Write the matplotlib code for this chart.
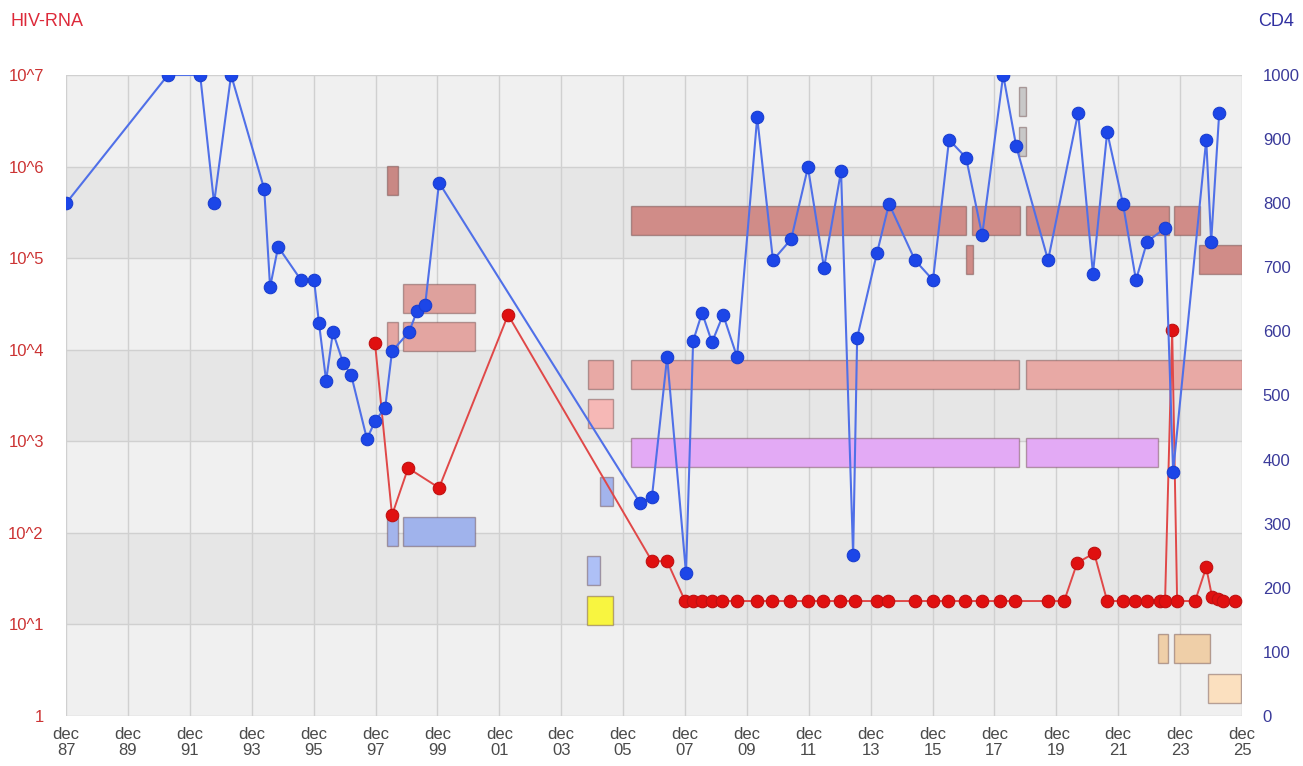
import numpy as np
import matplotlib
matplotlib.use('Agg')
import matplotlib.pyplot as plt
from matplotlib.patches import Rectangle

plt.rcParams['font.family'] = ['Liberation Sans', 'DejaVu Sans']

# CD4 counts (right axis), decimal years
cd4_year = [1987.92, 1991.21, 1992.25, 1992.70, 1993.25, 1994.32, 1994.51, 1994.77,
            1995.51, 1995.93, 1996.09, 1996.32, 1996.54, 1996.87, 1997.13, 1997.64,
            1997.90, 1998.23, 1998.45, 1999.00, 1999.26, 1999.52, 1999.97, 2006.47,
            2006.85, 2007.34, 2007.95, 2008.18, 2008.47, 2008.79, 2009.15, 2009.60,
            2010.25, 2010.76, 2011.35, 2011.89, 2012.41, 2012.96, 2013.35, 2013.48,
            2014.12, 2014.51, 2015.35, 2015.93, 2016.45, 2017.00, 2017.52, 2018.20,
            2018.62, 2019.65, 2020.62, 2021.10, 2021.56, 2022.07, 2022.49, 2022.85,
            2023.43, 2023.69, 2024.76, 2024.92, 2025.18]
cd4_value = [800, 1000, 1000, 800, 1000, 822, 669, 732,
             680, 680, 613, 523, 599, 551, 532, 432,
             460, 481, 569, 599, 632, 641, 832, 332,
             342, 560, 223, 585, 629, 583, 626, 560,
             934, 711, 744, 856, 699, 850, 251, 590,
             722, 799, 711, 680, 899, 871, 750, 1000,
             889, 711, 941, 690, 911, 799, 680, 740,
             761, 381, 899, 740, 941]

# HIV-RNA viral load (left axis, log)
rna_year = [1997.90, 1998.45, 1998.97, 1999.97, 2002.20, 2006.85, 2007.34,
            2007.92, 2008.18, 2008.47, 2008.79, 2009.12, 2009.60, 2010.25, 2010.73,
            2011.31, 2011.89, 2012.38, 2012.93, 2013.41, 2014.12, 2014.48, 2015.35,
            2015.93, 2016.42, 2016.97, 2017.52, 2018.10, 2018.58, 2019.65, 2020.17,
            2020.59, 2021.14, 2021.56, 2022.07, 2022.46, 2022.85, 2023.27, 2023.43,
            2023.66, 2023.82, 2024.40, 2024.76, 2024.95, 2025.14, 2025.31, 2025.69]
rna_value = [11800, 156, 510, 310, 24000, 49, 49,
             18, 18, 18, 18, 18, 18, 18, 18,
             18, 18, 18, 18, 18, 18, 18, 18,
             18, 18, 18, 18, 18, 18, 18, 18,
             47, 60, 18, 18, 18, 18, 18, 18,
             16400, 18, 18, 42, 20, 19, 18, 18]

# therapy bars: start, end, lane top (log10 of left axis), colour
bar_start = [1998.29, 1998.29, 1998.81, 1998.81, 1998.29, 1998.81, 2004.78, 2004.78,
             2005.17, 2004.75, 2004.75, 2006.17, 2017.19, 2018.94, 2023.72, 2024.53,
             2017.00, 2018.71, 2018.71, 2006.17, 2018.94, 2006.17, 2018.94, 2023.20,
             2023.72, 2024.82]
bar_end = [1998.64, 1998.64, 2001.13, 2001.13, 1998.64, 2001.13, 2005.59, 2005.59,
           2005.59, 2005.17, 2005.59, 2017.00, 2018.74, 2023.56, 2024.56, 2025.92,
           2017.23, 2018.94, 2018.94, 2018.71, 2025.92, 2018.71, 2023.20, 2023.53,
           2024.88, 2025.88]
bar_top = [6.004, 4.301, 4.716, 4.301, 2.173, 2.173, 3.886, 3.461,
           2.609, 1.747, 1.310, 5.568, 5.568, 5.568, 5.568, 5.142,
           5.142, 6.867, 6.430, 3.886, 3.886, 3.035, 3.035, 0.895,
           0.895, 0.459]
bar_color = ['#c98884', '#e4a6a2', '#dea19d', '#e3a5a1', '#a3b4ec', '#a0b3ec', '#e8a9a5', '#f6b8b6',
             '#a3b4ec', '#aec0f6', '#f8f540', '#d08c88', '#d08c88', '#d08c88', '#d08c88', '#d08c88',
             '#d08c88', '#c8c8c8', '#c8c8c8', '#e8a9a5', '#e8a9a5', '#e3aaf5', '#e3aaf5', '#efcfa8',
             '#efcfa8', '#fbe0bf']
bar_height = 0.317

tick_years = [1987.917 + 2 * k for k in range(20)]
tick_labels = ['dec\n%02d' % ((87 + 2 * k) % 100) for k in range(20)]

fig = plt.figure(figsize=(13.03, 7.66), dpi=100)
ax = fig.add_axes([0.0507, 0.0653, 0.9025, 0.8368])
ax.set_yscale('log')
ax.set_xlim(1987.917, 2025.917)
ax.set_ylim(1, 1e7)

# alternating bands
for k in range(7):
    ax.axhspan(10 ** k, 10 ** (k + 1), color='#f0f0f0' if k % 2 == 0 else '#e6e6e6', lw=0, zorder=0)
for t in tick_years:
    ax.axvline(t, color='#d0d0d0', lw=1, zorder=0.5)
for k in range(8):
    ax.axhline(10 ** k, color='#d0d0d0', lw=1, zorder=0.5)

for s, e, top, c in zip(bar_start, bar_end, bar_top, bar_color):
    lo = 10 ** (top - bar_height)
    hi = 10 ** top
    ax.add_patch(Rectangle((s, lo), e - s, hi - lo, facecolor=c,
                           edgecolor=(0.35, 0.2, 0.2, 0.4), lw=1, zorder=1))

ax.plot(rna_year, rna_value, color='#e04848', lw=1.4, marker='o', ms=9,
        mfc='#e01010', mec='#c01010', mew=0.8, zorder=3)

ax.set_xticks(tick_years)
ax.set_xticklabels(tick_labels, color='#4a4a4a', fontsize=12, linespacing=1.05)
ax.set_yticks([10 ** k for k in range(8)])
ax.set_yticklabels(['1'] + ['10^%d' % k for k in range(1, 8)], color='#cc3333', fontsize=12)
ax.yaxis.set_minor_locator(matplotlib.ticker.NullLocator())
ax.tick_params(length=0, pad=8)
ax.tick_params(axis='y', pad=16)
for sp in ax.spines.values():
    sp.set_visible(False)

ax2 = ax.twinx()
ax2.set_ylim(0, 1000)
ax2.plot(cd4_year, cd4_value, color='#5070e8', lw=1.5, marker='o', ms=9,
         mfc='#1c46e8', mec='#1a3ed0', mew=0.8, zorder=4)
ax2.set_yticks(range(0, 1001, 100))
ax2.set_yticklabels([str(v) for v in range(0, 1001, 100)], color='#3a3a9a', fontsize=12)
ax2.tick_params(length=0, pad=15)
for sp in ax2.spines.values():
    sp.set_visible(False)

fig.text(0.008, 0.972, 'HIV-RNA', color='#dd2a3a', fontsize=13, va='center', ha='left')
fig.text(0.993, 0.972, 'CD4', color='#3030a0', fontsize=13, va='center', ha='right')

fig.savefig('out.png', dpi=100)
